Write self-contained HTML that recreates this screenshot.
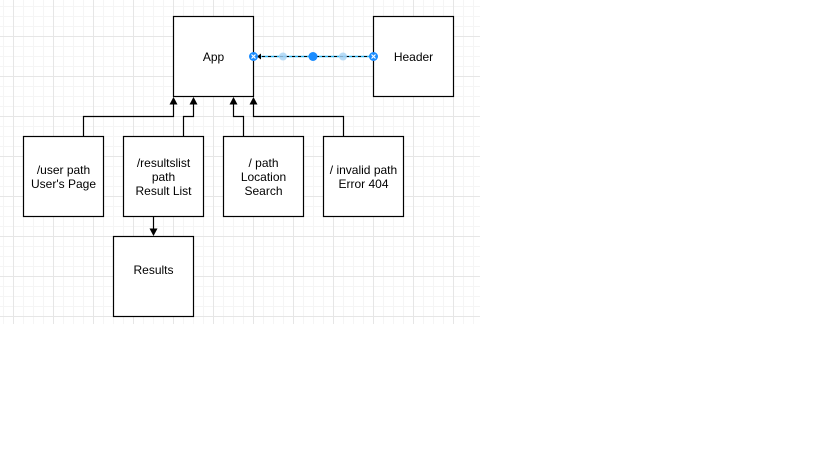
<!DOCTYPE html>
<html><head><meta charset="utf-8"><style>
html,body{margin:0;padding:0;background:#fff;width:819px;height:460px;overflow:hidden}
svg{display:block}
text{font-family:"Liberation Sans",Arial,sans-serif;font-size:12px;fill:#000}
</style></head><body>
<svg width="819" height="460" viewBox="0 0 819 460" xmlns="http://www.w3.org/2000/svg">
<defs>
<pattern id="minor" x="3" y="6" width="10" height="10" patternUnits="userSpaceOnUse">
<path d="M0.5 0V10M0 0.5H10" stroke="#f5f5f5" stroke-width="1" fill="none"/>
</pattern>
<pattern id="major" x="13" y="36" width="40" height="40" patternUnits="userSpaceOnUse">
<path d="M0.5 0V40M0 0.5H40" stroke="#e6e6e6" stroke-width="1" fill="none"/>
</pattern>
</defs>
<rect x="0" y="0" width="480" height="324" fill="url(#minor)"/>
<rect x="0" y="0" width="480" height="324" fill="url(#major)"/>
<g fill="#fff" stroke="#000" stroke-width="1.2">
<rect x="173.5" y="16.5" width="80" height="80"/>
<rect x="373.5" y="16.5" width="80" height="80"/>
<rect x="23.5" y="136.5" width="80" height="80"/>
<rect x="123.5" y="136.5" width="80" height="80"/>
<rect x="223.5" y="136.5" width="80" height="80"/>
<rect x="323.5" y="136.5" width="80" height="80"/>
<rect x="113.5" y="236.5" width="80" height="80"/>
</g>
<g fill="none" stroke="#000" stroke-width="1.2">
<path d="M83.5 136V116.5H173.5V102"/>
<path d="M183.5 136V116.5H193.5V102"/>
<path d="M243.5 136V116.5H233.5V102"/>
<path d="M343.5 136V116.5H253.5V102"/>
<path d="M153.5 217V230"/>
</g>
<g fill="#000">
<path d="M173.5 97l-4 7.5h8z"/>
<path d="M193.5 97l-4 7.5h8z"/>
<path d="M233.5 97l-4 7.5h8z"/>
<path d="M253.5 97l-4 7.5h8z"/>
<path d="M153.5 236l-4 -7.5h8z"/>
</g>
<line x1="373" y1="56.5" x2="258" y2="56.5" stroke="#29b6f2" stroke-width="1.5"/>
<line x1="373" y1="56.5" x2="258" y2="56.5" stroke="#000" stroke-width="1" stroke-dasharray="3 3"/>
<path d="M257 56.5l4 -3v6z" fill="#000"/>
<circle cx="283" cy="56.5" r="4" fill="#a8d3f5" opacity="0.8"/>
<circle cx="343" cy="56.5" r="4" fill="#a8d3f5" opacity="0.8"/>
<circle cx="313" cy="56.5" r="4.5" fill="#1a8cff"/>
<circle cx="253.5" cy="56.5" r="4.5" fill="#1a8cff"/>
<path d="M251.5 54.5l4 4M255.5 54.5l-4 4" stroke="#fff" stroke-width="1.2"/>
<circle cx="373.5" cy="56.5" r="4.5" fill="#1a8cff"/>
<path d="M371.5 54.5l4 4M375.5 54.5l-4 4" stroke="#fff" stroke-width="1.2"/>
<g text-anchor="middle">
<text x="213.5" y="61">App</text>
<text x="413.5" y="61">Header</text>
<text x="63.5" y="174">/user path</text>
<text x="63.5" y="188">User's Page</text>
<text x="163.5" y="167">/resultslist</text>
<text x="163.5" y="181">path</text>
<text x="163.5" y="195">Result List</text>
<text x="263.5" y="167">/ path</text>
<text x="263.5" y="181">Location</text>
<text x="263.5" y="195">Search</text>
<text x="363.5" y="174">/ invalid path</text>
<text x="363.5" y="188">Error 404</text>
<text x="153.5" y="274">Results</text>
</g>
</svg>
</body></html>
